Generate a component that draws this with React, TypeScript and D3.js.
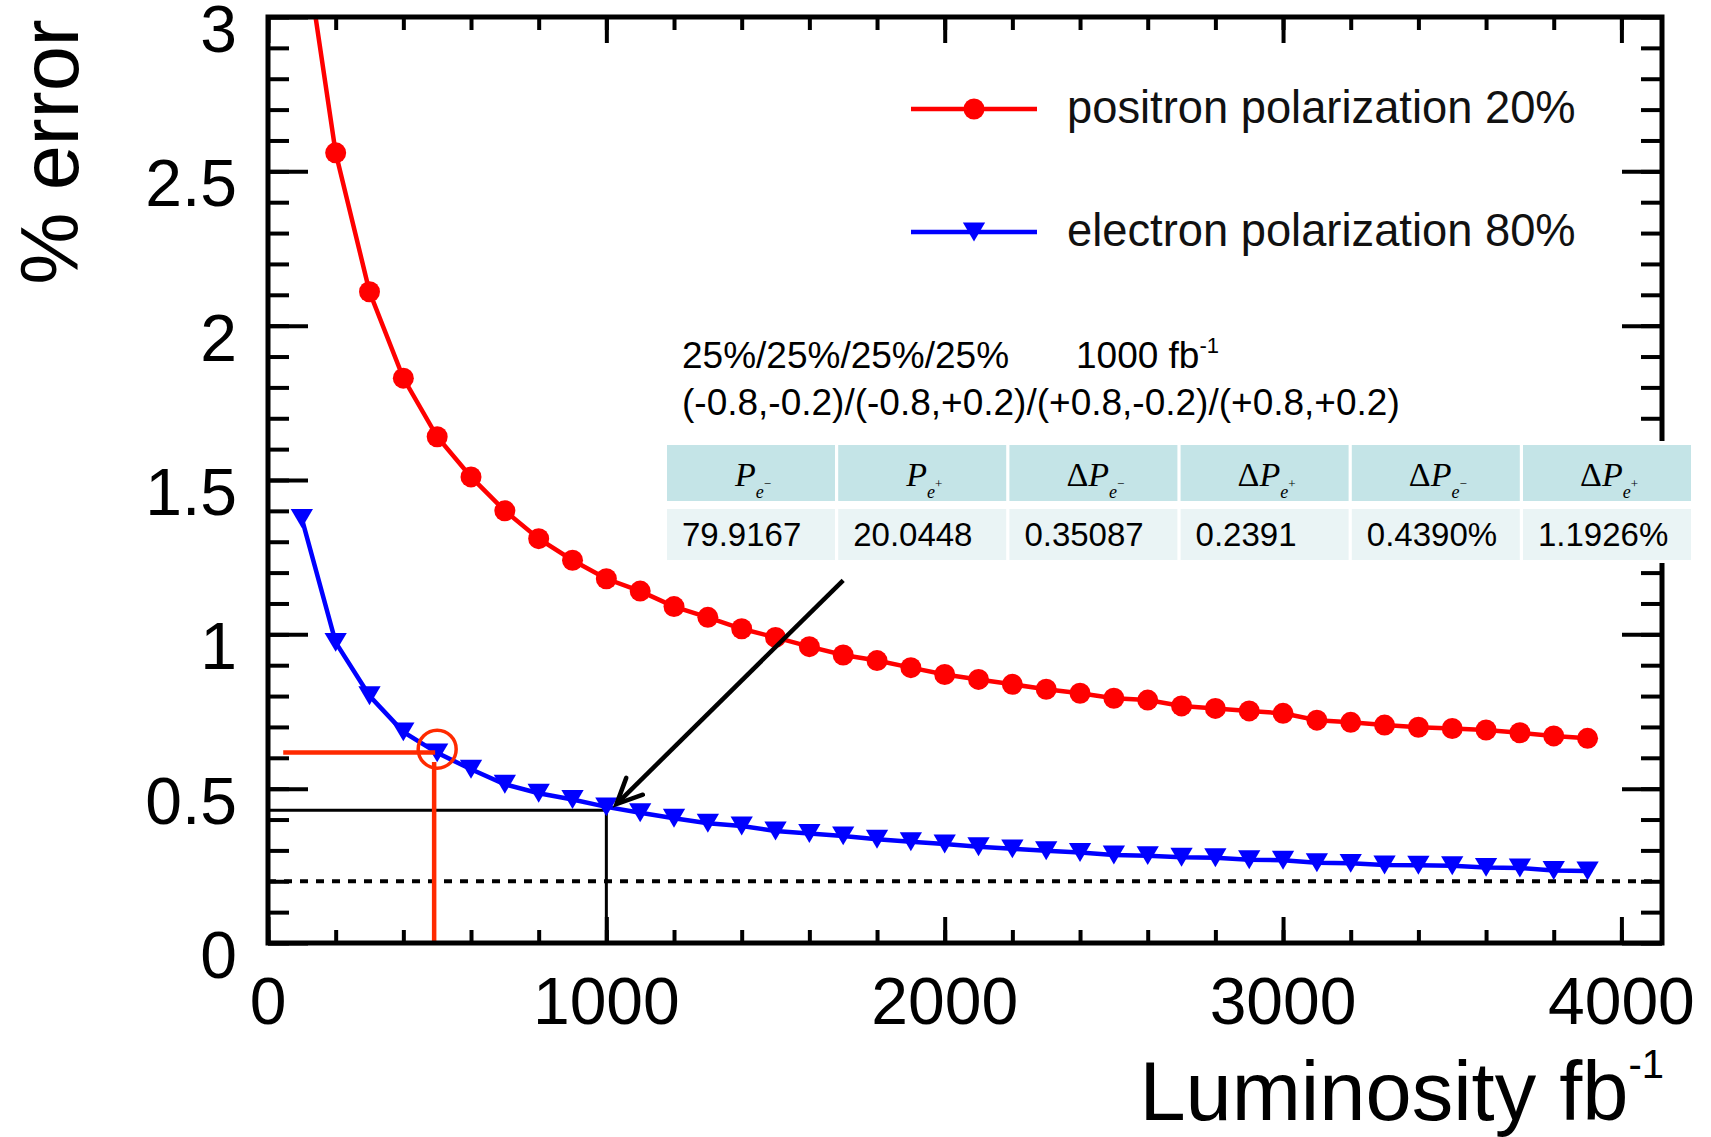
import React, { useEffect, useRef } from 'react';
import * as d3 from 'd3';

// luminosity points (fb^-1) and % error
const luminosity = [
  100, 200, 300, 400, 500, 600, 700, 800, 900, 1000,
  1100, 1200, 1300, 1400, 1500, 1600, 1700, 1800, 1900, 2000,
  2100, 2200, 2300, 2400, 2500, 2600, 2700, 2800, 2900, 3000,
  3100, 3200, 3300, 3400, 3500, 3600, 3700, 3800, 3900,
];
const positronError = [
  3.3, 2.56, 2.11, 1.83, 1.64, 1.51, 1.4, 1.31, 1.24, 1.18,
  1.14, 1.09, 1.055, 1.018, 0.99, 0.96, 0.933, 0.915, 0.892, 0.87,
  0.854, 0.838, 0.822, 0.809, 0.793, 0.787, 0.768, 0.76, 0.752, 0.744,
  0.722, 0.715, 0.706, 0.699, 0.695, 0.69, 0.681, 0.671, 0.663,
];
const electronError = [
  1.375, 0.974, 0.801, 0.684, 0.616, 0.563, 0.514, 0.485, 0.465, 0.441,
  0.422, 0.404, 0.388, 0.379, 0.363, 0.355, 0.347, 0.336, 0.328, 0.321,
  0.312, 0.305, 0.299, 0.293, 0.285, 0.283, 0.278, 0.276, 0.27, 0.268,
  0.26, 0.258, 0.253, 0.252, 0.25, 0.245, 0.243, 0.235, 0.233,
];

const xMajorTicks = [0, 1000, 2000, 3000, 4000];
const yMajorTicks = [0, 0.5, 1, 1.5, 2, 2.5, 3];
const legendLabels = ['positron polarization 20%', 'electron polarization 80%'];
const seriesColors = ['#ff0000', '#0000ff'];

// annotation guides (data units)
const targetError = 0.2;
const redGuideLumi = [45, 494, 500];
const redGuideError = [0.617, 0.586, 0.628];
const blackGuideLumi = 1000;
const blackGuideError = 0.43;
const arrowLumi = [1700, 1030];
const arrowError = [1.175, 0.45];

// text box + table
const infoLine1 = '25%/25%/25%/25%';
const infoLumi = '1000 fb';
const infoLine2 = '(-0.8,-0.2)/(-0.8,+0.2)/(+0.8,-0.2)/(+0.8,+0.2)';
const headerDelta = ['', '', 'Δ', 'Δ', 'Δ', 'Δ'];
const headerCharge = ['−', '+', '−', '+', '−', '+'];
const tableValues = ['79.9167', '20.0448', '0.35087', '0.2391', '0.4390%', '1.1926%'];

const W = 1711;
const H = 1137;
const SANS = '"Liberation Sans", Arial, sans-serif';
const SERIF = '"Liberation Serif", "Times New Roman", serif';

// down triangle centred on its bounding box
const triangleDown = {
  draw(ctx: any, size: number) {
    const w = Math.sqrt(size) * 1.52;
    const h = w * 0.85;
    ctx.moveTo(-w / 2, -h / 2);
    ctx.lineTo(w / 2, -h / 2);
    ctx.lineTo(0, h / 2);
    ctx.closePath();
  },
};

const App: React.FC = () => {
  const svgRef = useRef<SVGSVGElement>(null);

  useEffect(() => {
    if (!svgRef.current) return;
    const svg = d3.select(svgRef.current);
    svg.selectAll('*').remove();

    const left = 268, right = 1662, top = 17, bottom = 943;
    const x = d3.scaleLinear().domain([0, 4120]).range([left, right]);
    const y = d3.scaleLinear().domain([0, 3]).range([bottom, top]);

    svg.append('rect').attr('width', W).attr('height', H).attr('fill', '#fff');

    svg.append('defs').append('clipPath').attr('id', 'plot-clip')
      .append('rect')
      .attr('x', left).attr('y', top)
      .attr('width', right - left).attr('height', bottom - top);

    const plot = svg.append('g').attr('clip-path', 'url(#plot-clip)');

    // dotted target line
    plot.append('line')
      .attr('x1', x(0)).attr('x2', x(4120))
      .attr('y1', y(targetError)).attr('y2', y(targetError))
      .attr('stroke', '#000').attr('stroke-width', 4).attr('stroke-dasharray', '8 8');

    // black guide at 1000 fb-1
    plot.append('path')
      .attr('d', `M${x(0)},${y(blackGuideError)}H${x(blackGuideLumi)}V${y(0)}`)
      .attr('fill', 'none').attr('stroke', '#000').attr('stroke-width', 3);

    // curves
    const series = [positronError, electronError];
    const line = d3.line<number>()
      .x((_, i) => x(luminosity[i]))
      .y(d => y(d));

    series.forEach((vals, s) => {
      plot.append('path')
        .datum(vals)
        .attr('d', line)
        .attr('fill', 'none')
        .attr('stroke', seriesColors[s])
        .attr('stroke-width', 4.5);
    });

    plot.append('g').selectAll('circle')
      .data(positronError)
      .join('circle')
      .attr('cx', (_, i) => x(luminosity[i]))
      .attr('cy', d => y(d))
      .attr('r', 10.5)
      .attr('fill', seriesColors[0]);

    const tri = d3.symbol().type(triangleDown as any).size(215);
    plot.append('g').selectAll('path')
      .data(electronError)
      .join('path')
      .attr('transform', (d, i) => `translate(${x(luminosity[i])},${y(d)})`)
      .attr('d', tri as any)
      .attr('fill', seriesColors[1]);

    // red guide at 500 fb-1
    const red = '#ff2a00';
    plot.append('line')
      .attr('x1', x(redGuideLumi[0])).attr('x2', x(redGuideLumi[1]))
      .attr('y1', y(redGuideError[0])).attr('y2', y(redGuideError[0]))
      .attr('stroke', red).attr('stroke-width', 4.5);
    plot.append('line')
      .attr('x1', x(redGuideLumi[1]) - 1).attr('x2', x(redGuideLumi[1]) - 1)
      .attr('y1', y(redGuideError[1])).attr('y2', y(0))
      .attr('stroke', red).attr('stroke-width', 4.5);
    plot.append('circle')
      .attr('cx', x(redGuideLumi[2])).attr('cy', y(redGuideError[2]))
      .attr('r', 19)
      .attr('fill', 'none').attr('stroke', red).attr('stroke-width', 3.5);

    // frame + inward ticks on all sides
    const styleTicks = (g: any) => {
      g.select('.domain').remove();
      g.selectAll('text').remove();
      g.selectAll('line').attr('stroke', '#000').attr('stroke-width', 4);
    };
    const xMinor = x.ticks(20);
    const yMinor = y.ticks(30);
    svg.append('g').attr('transform', `translate(0,${bottom})`)
      .call(d3.axisBottom(x).tickValues(xMinor).tickSize(-13)).call(styleTicks);
    svg.append('g').attr('transform', `translate(0,${bottom})`)
      .call(d3.axisBottom(x).tickValues(xMajorTicks).tickSize(-26)).call(styleTicks);
    svg.append('g').attr('transform', `translate(0,${top})`)
      .call(d3.axisTop(x).tickValues(xMinor).tickSize(-13)).call(styleTicks);
    svg.append('g').attr('transform', `translate(0,${top})`)
      .call(d3.axisTop(x).tickValues(xMajorTicks).tickSize(-26)).call(styleTicks);
    svg.append('g').attr('transform', `translate(${left},0)`)
      .call(d3.axisLeft(y).tickValues(yMinor).tickSize(-21)).call(styleTicks);
    svg.append('g').attr('transform', `translate(${left},0)`)
      .call(d3.axisLeft(y).tickValues(yMajorTicks).tickSize(-40)).call(styleTicks);
    svg.append('g').attr('transform', `translate(${right},0)`)
      .call(d3.axisRight(y).tickValues(yMinor).tickSize(-21)).call(styleTicks);
    svg.append('g').attr('transform', `translate(${right},0)`)
      .call(d3.axisRight(y).tickValues(yMajorTicks).tickSize(-40)).call(styleTicks);

    svg.append('rect')
      .attr('x', left).attr('y', top)
      .attr('width', right - left).attr('height', bottom - top)
      .attr('fill', 'none').attr('stroke', '#000').attr('stroke-width', 5);

    // tick labels
    svg.append('g').selectAll('text')
      .data(yMajorTicks)
      .join('text')
      .attr('x', 237)
      .attr('y', d => y(d) + 35)
      .attr('text-anchor', 'end')
      .style('font', `66px ${SANS}`)
      .text(d => String(d));

    svg.append('g').selectAll('text')
      .data(xMajorTicks)
      .join('text')
      .attr('x', d => x(d))
      .attr('y', 1024)
      .attr('text-anchor', 'middle')
      .style('font', `66px ${SANS}`)
      .text(d => String(d));

    // axis titles
    svg.append('text')
      .attr('transform', 'translate(78,152) rotate(-90)')
      .attr('text-anchor', 'middle')
      .style('font', `81px ${SANS}`)
      .text('% error');

    const xt = svg.append('text')
      .attr('x', 1664).attr('y', 1120)
      .attr('text-anchor', 'end')
      .style('font', `83px ${SANS}`);
    xt.append('tspan').text('Luminosity fb');
    xt.append('tspan').attr('dy', -42).style('font-size', '40px').text('-1');

    // legend
    const legend = svg.append('g');
    legendLabels.forEach((lab, i) => {
      const ly = [109, 232][i];
      legend.append('line')
        .attr('x1', 911).attr('x2', 1037).attr('y1', ly).attr('y2', ly)
        .attr('stroke', seriesColors[i]).attr('stroke-width', 4.5);
      if (i === 0) {
        legend.append('circle').attr('cx', 974).attr('cy', ly).attr('r', 10.5).attr('fill', seriesColors[0]);
      } else {
        legend.append('path').attr('transform', `translate(974,${ly})`).attr('d', tri as any).attr('fill', seriesColors[1]);
      }
      legend.append('text')
        .attr('x', 1067).attr('y', ly + 14)
        .style('font', `45.3px ${SANS}`)
        .attr('fill', '#111')
        .text(lab);
    });

    // info text
    const info = svg.append('g').style('font', `37px ${SANS}`);
    info.append('text').attr('x', 682).attr('y', 368).text(infoLine1);
    const lum = info.append('text').attr('x', 1076).attr('y', 368);
    lum.append('tspan').text(infoLumi);
    lum.append('tspan').attr('dy', -15).style('font-size', '22px').text('-1');
    info.append('text').attr('x', 682).attr('y', 415).text(infoLine2);

    // table
    const tx0 = 667, cellW = 168, step = 171.2;
    const table = svg.append('g');
    table.append('rect').attr('x', tx0 - 2).attr('y', 441).attr('width', step * 6).attr('height', 122).attr('fill', '#fff');
    table.selectAll('rect.head')
      .data(headerCharge)
      .join('rect')
      .attr('class', 'head')
      .attr('x', (_, i) => tx0 + i * step).attr('y', 445)
      .attr('width', cellW).attr('height', 56)
      .attr('fill', '#c4e4e7');
    table.selectAll('rect.val')
      .data(tableValues)
      .join('rect')
      .attr('class', 'val')
      .attr('x', (_, i) => tx0 + i * step).attr('y', 509)
      .attr('width', cellW).attr('height', 51)
      .attr('fill', '#eaf4f5');

    headerCharge.forEach((sign, i) => {
      const t = table.append('text')
        .attr('x', tx0 + i * step + cellW / 2 + 2)
        .attr('y', 486)
        .attr('text-anchor', 'middle')
        .style('font-family', SERIF)
        .style('font-size', '34px');
      if (headerDelta[i]) t.append('tspan').text(headerDelta[i]);
      t.append('tspan').style('font-style', 'italic').text('P');
      t.append('tspan').attr('dy', 12).style('font-style', 'italic').style('font-size', '18px').text('e');
      t.append('tspan').attr('dy', -10).style('font-size', '13px').text(sign);
    });

    table.selectAll('text.val')
      .data(tableValues)
      .join('text')
      .attr('class', 'val')
      .attr('x', (_, i) => tx0 + i * step + 15)
      .attr('y', 546)
      .style('font', `33px ${SANS}`)
      .text(d => d);

    // arrow to the 1000 fb-1 point
    const ax0 = x(arrowLumi[0]), ay0 = y(arrowError[0]);
    const ax1 = x(arrowLumi[1]), ay1 = y(arrowError[1]);
    const ang = Math.atan2(ay0 - ay1, ax0 - ax1);
    const head = 28, spread = (25 * Math.PI) / 180;
    svg.append('line')
      .attr('x1', ax0).attr('y1', ay0).attr('x2', ax1 + 2).attr('y2', ay1 - 2)
      .attr('stroke', '#000').attr('stroke-width', 4.5);
    svg.append('path')
      .attr('d', `M${ax1 + head * Math.cos(ang - spread)},${ay1 + head * Math.sin(ang - spread)}L${ax1},${ay1}L${ax1 + head * Math.cos(ang + spread)},${ay1 + head * Math.sin(ang + spread)}`)
      .attr('fill', 'none').attr('stroke', '#000').attr('stroke-width', 4.5)
      .attr('stroke-linecap', 'round');
  }, []);

  return (
    <svg
      ref={svgRef}
      width={W}
      height={H}
      style={{ position: 'absolute', left: 0, top: 0, display: 'block' }}
    />
  );
};

export default App;
